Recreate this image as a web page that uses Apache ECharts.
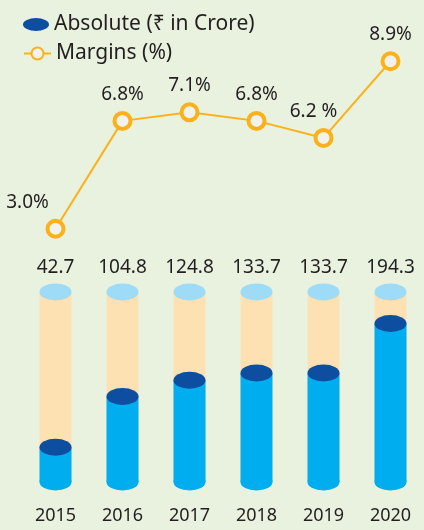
<!DOCTYPE html>
<html>
<head>
<meta charset="utf-8">
<script src="https://cdn.jsdelivr.net/npm/echarts@6/dist/echarts.min.js"></script>
<style>
  html, body { margin: 0; padding: 0; background: #e9f2df; }
  #chart { width: 424px; height: 530px; }
</style>
</head>
<body>
<div id="chart"></div>
<script>
// 数据
var years = ['2015', '2016', '2017', '2018', '2019', '2020'];
var absolute = [42.7, 104.8, 124.8, 133.7, 133.7, 194.3];
var margins = [3.0, 6.8, 7.1, 6.8, 6.2, 8.9];
var marginText = ['3.0%', '6.8%', '7.1%', '6.8%', '6.2 %', '8.9%'];
var barMax = 233;

var font = 'Noto Sans';
var textColor = '#231f20';
var ellipse = 'path://M0,50 A50,50 0 1,1 100,50 A50,50 0 1,1 0,50 Z';

var myChart = echarts.init(document.getElementById('chart'));

// 标签偏移 (3.0% 和 6.2 % 偏左)
var labelOffsetX = [-28, 0, 0, 0, -10, 0];

myChart.setOption({
    backgroundColor: '#e9f2df',
    animation: false,
    textStyle: { fontFamily: font },
    legend: [{
        left: 23,
        top: 14,
        padding: 0,
        itemWidth: 26,
        itemHeight: 13,
        symbolKeepAspect: false,
        icon: ellipse,
        textStyle: { fontFamily: font, fontSize: 21, color: textColor },
        data: [{ name: 'Absolute (₹ in Crore)', itemStyle: { color: '#0d4ea1' } }]
    }, {
        left: 23,
        top: 43,
        padding: 0,
        itemWidth: 27,
        itemHeight: 15,
        textStyle: { fontFamily: font, fontSize: 21, color: textColor },
        data: ['Margins (%)']
    }],
    grid: [
        { left: 22, right: -5, top: 292, bottom: 48 },
        { left: 22, right: -5, top: 30, bottom: 216 }
    ],
    xAxis: [{
        type: 'category',
        gridIndex: 0,
        data: years,
        axisLine: { show: false },
        axisTick: { show: false },
        axisLabel: { margin: 25, fontSize: 18, color: textColor, fontFamily: font }
    }, {
        type: 'category',
        gridIndex: 1,
        data: years,
        show: false
    }],
    yAxis: [{
        type: 'value',
        gridIndex: 0,
        min: 0,
        max: barMax,
        show: false
    }, {
        type: 'value',
        gridIndex: 1,
        min: 0,
        max: 10,
        show: false
    }],
    series: [
        {
            // 背景柱
            name: 'bg',
            type: 'bar',
            xAxisIndex: 0, yAxisIndex: 0,
            barWidth: 32,
            barGap: '-100%',
            z: 1,
            itemStyle: { color: '#fde1b2' },
            label: {
                show: true,
                position: 'top',
                distance: 15,
                fontSize: 19,
                color: textColor,
                fontFamily: font,
                formatter: function (p) { return absolute[p.dataIndex].toFixed(1); }
            },
            data: years.map(function () { return barMax; })
        },
        {
            name: 'bgTop',
            type: 'pictorialBar',
            xAxisIndex: 0, yAxisIndex: 0,
            symbol: ellipse,
            symbolSize: [32, 17],
            symbolPosition: 'end',
            symbolOffset: [0, '-50%'],
            barGap: '-100%',
            z: 2,
            itemStyle: { color: '#9ddbf7' },
            data: years.map(function () { return barMax; })
        },
        {
            name: 'Absolute (₹ in Crore)',
            type: 'bar',
            xAxisIndex: 0, yAxisIndex: 0,
            barWidth: 32,
            barGap: '-100%',
            z: 3,
            itemStyle: { color: '#00aeef' },
            data: absolute
        },
        {
            name: 'absBottom',
            type: 'pictorialBar',
            xAxisIndex: 0, yAxisIndex: 0,
            symbol: ellipse,
            symbolSize: [32, 17],
            symbolPosition: 'start',
            symbolOffset: [0, '50%'],
            barGap: '-100%',
            z: 3,
            itemStyle: { color: '#00aeef' },
            data: absolute
        },
        {
            name: 'absTop',
            type: 'pictorialBar',
            xAxisIndex: 0, yAxisIndex: 0,
            symbol: ellipse,
            symbolSize: [32, 17],
            symbolPosition: 'end',
            symbolOffset: [0, '-50%'],
            barGap: '-100%',
            z: 4,
            itemStyle: { color: '#0d4ea1' },
            data: absolute
        },
        {
            name: 'Margins (%)',
            type: 'line',
            xAxisIndex: 1, yAxisIndex: 1,
            symbol: 'circle',
            symbolSize: 16,
            lineStyle: { color: '#fbb21a', width: 2 },
            itemStyle: { color: '#f1f1ee', borderColor: '#fbb21a', borderWidth: 4 },
            z: 5,
            label: {
                show: true,
                position: 'top',
                distance: 7,
                fontSize: 19,
                color: textColor,
                fontFamily: font
            },
            data: margins.map(function (v, i) {
                return {
                    value: v,
                    label: {
                        offset: [labelOffsetX[i], 0],
                        formatter: marginText[i]
                    }
                };
            })
        }
    ]
});
</script>
</body>
</html>
